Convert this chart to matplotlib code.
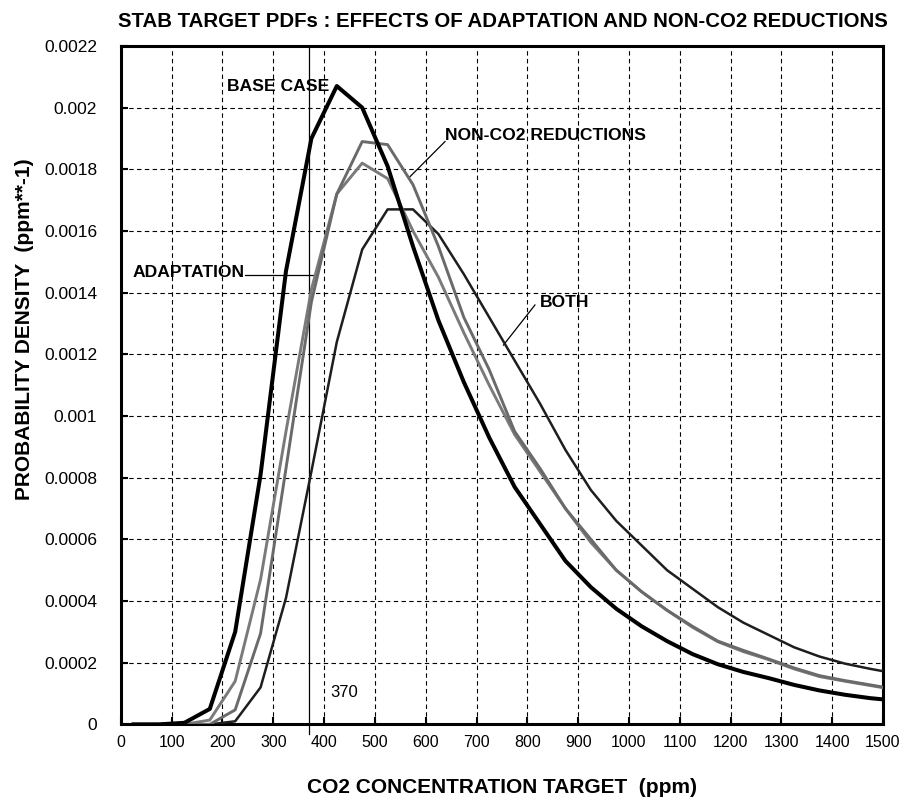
import matplotlib
matplotlib.use("Agg")
import matplotlib.pyplot as plt

plt.rcParams['font.family'] = ['Liberation Sans', 'DejaVu Sans']

# CO2 concentration target bins (ppm, bin midpoints)
x_ppm = [25, 75, 125, 175, 225, 275, 325, 375, 425, 475, 525, 575, 625, 675, 725,
         775, 825, 875, 925, 975, 1025, 1075, 1125, 1175, 1225, 1275, 1325, 1375,
         1425, 1475, 1525]

base_case = [0, 0, 0.000005, 0.00005, 0.0003, 0.00081, 0.00147, 0.0019, 0.00207, 0.002,
             0.00181, 0.00155, 0.00131, 0.00111, 0.00093, 0.00077, 0.00065, 0.00053,
             0.000445, 0.000375, 0.000318, 0.00027, 0.000228, 0.000195, 0.00017,
             0.00015, 0.000128, 0.00011, 0.000096, 0.000085, 0.000077]

adaptation = [0, 0, 0, 0.000014, 0.00014, 0.00047, 0.00095, 0.00141, 0.00172, 0.00182,
              0.00177, 0.0016, 0.00145, 0.00127, 0.0011, 0.00094, 0.00082, 0.0007,
              0.00059, 0.0005, 0.00043, 0.00037, 0.000315, 0.000268, 0.000236,
              0.00021, 0.00018, 0.000155, 0.00014, 0.000126, 0.000112]

non_co2 = [0, 0, 0, 0, 0.000047, 0.000295, 0.00083, 0.00137, 0.00172, 0.00189,
           0.00188, 0.00175, 0.00155, 0.00132, 0.00115, 0.00095, 0.00083, 0.0007,
           0.0006, 0.0005, 0.00043, 0.00037, 0.000318, 0.00027, 0.00024,
           0.000212, 0.000183, 0.000158, 0.000142, 0.000128, 0.000114]

both = [0, 0, 0, 0, 0.00001, 0.00012, 0.00041, 0.00082, 0.00124, 0.00154,
        0.00167, 0.00167, 0.00159, 0.00146, 0.00132, 0.00118, 0.00104, 0.00089,
        0.00076, 0.00066, 0.00058, 0.0005, 0.00044, 0.00038, 0.00033,
        0.00029, 0.00025, 0.00022, 0.000197, 0.00018, 0.000165]

x_ticks = [0, 100, 200, 300, 400, 500, 600, 700, 800, 900, 1000, 1100, 1200, 1300, 1400, 1500]
y_ticks = [0, 0.0002, 0.0004, 0.0006, 0.0008, 0.001, 0.0012, 0.0014, 0.0016, 0.0018, 0.002, 0.0022]
y_tick_labels = ['0', '0.0002', '0.0004', '0.0006', '0.0008', '0.001', '0.0012',
                 '0.0014', '0.0016', '0.0018', '0.002', '0.0022']
current_ppm = 370

fig = plt.figure(figsize=(9.06, 8.02), dpi=100)
ax = fig.add_axes([0.1334, 0.0968, 0.8412, 0.8459])

ax.plot(x_ppm, both, color='#1e1e1e', lw=1.8, zorder=3)
ax.plot(x_ppm, adaptation, color='#7a7a7a', lw=2.1, zorder=3)
ax.plot(x_ppm, non_co2, color='#6a6a6a', lw=2.1, zorder=3)
ax.plot(x_ppm, base_case, color='black', lw=2.9, zorder=4)

# present-day concentration marker
ax.plot([current_ppm, current_ppm], [-0.00003, 0.0022], color='black', lw=0.9,
        clip_on=False, zorder=2)
ax.text(412, 0.000102, '370', fontsize=12, ha='left', va='center')

ax.set_xlim(0, 1500)
ax.set_ylim(0, 0.0022)
ax.set_xticks(x_ticks)
ax.set_xticklabels([str(t) for t in x_ticks])
ax.set_yticks(y_ticks)
ax.set_yticklabels(y_tick_labels)
ax.tick_params(direction='in', length=5, width=1.5, labelsize=11.5)
ax.tick_params(axis='y', pad=17, labelsize=12.5)
ax.tick_params(axis='x', pad=8)
ax.grid(True, color='black', lw=0.8, linestyle=(0, (4, 3)), zorder=1)
for s in ax.spines.values():
    s.set_linewidth(2.2)

# curve labels
lab = dict(fontsize=12.6, fontweight='bold')
ax.text(410, 0.00207, 'BASE CASE', ha='right', va='center', **lab)
ax.text(638, 0.00191, 'NON-CO2 REDUCTIONS', ha='left', va='center', **lab)
ax.plot([638, 569], [0.00189, 0.001776], color='black', lw=0.9)
ax.text(825, 0.001367, 'BOTH', ha='left', va='center', **lab)
ax.plot([815, 753], [0.00136, 0.00123], color='black', lw=0.9)
ax.text(24, 0.001465, 'ADAPTATION', ha='left', va='center', **lab)
ax.plot([244, 385], [0.001457, 0.001457], color='black', lw=0.9)

fig.text(0.555, 0.973, 'STAB TARGET PDFs : EFFECTS OF ADAPTATION AND NON-CO2 REDUCTIONS',
         ha='center', va='center', fontsize=14.7, fontweight='bold')
fig.text(0.554, 0.0175, 'CO2 CONCENTRATION TARGET  (ppm)', ha='center', va='center',
         fontsize=15, fontweight='bold')
fig.text(0.027, 0.59, 'PROBABILITY DENSITY  (ppm**-1)', ha='center', va='center',
         rotation=90, fontsize=15, fontweight='bold')

fig.savefig('out.png', dpi=100)
